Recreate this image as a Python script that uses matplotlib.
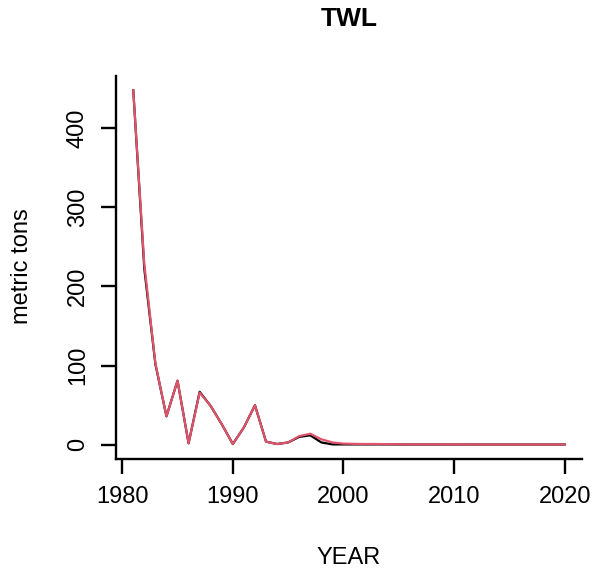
import matplotlib.pyplot as plt
import numpy as np

plt.rcParams['font.family'] = ['Liberation Sans', 'DejaVu Sans']

years = list(range(1981, 2021))
# observed catch (black) and estimated catch (red), metric tons
obs = [448, 222, 102, 36, 81, 2, 67, 49, 26, 1,
       22, 50, 4, 1, 3, 10, 12, 3, 0.5, 0.5,
       0.5, 0.5, 0.5, 0.5, 0.4, 0.4, 0.4, 0.4, 0.4, 0.4,
       0.4, 0.4, 0.4, 0.4, 0.4, 0.4, 0.4, 0.4, 0.4, 0.4]
est = [448, 228, 103, 36, 81, 2, 66, 49, 26, 1,
       22, 50, 4, 1, 3, 11, 14, 7, 3, 1.5,
       1.2, 1.0, 1.0, 0.8, 0.7, 0.6, 0.6, 0.6, 0.6, 0.6,
       0.5, 0.5, 0.5, 0.5, 0.5, 0.5, 0.5, 0.5, 0.5, 0.5]
xticks = [1980, 1990, 2000, 2010, 2020]
yticks = [0, 100, 200, 300, 400]

W, H = 593, 570
fig = plt.figure(figsize=(W / 100, H / 100), dpi=100)
ax = fig.add_axes([116 / W, 1 - 459 / H, (582 - 116) / W, (459 - 76) / H])

ax.plot(years, obs, color='black', lw=1.6)
ax.plot(years, est, color='#DF536B', lw=1.6)

# R-style 4% padding around the data range
def pad(lo, hi):
    d = (hi - lo) * 0.04
    return lo - d, hi + d

ax.set_xlim(*pad(min(years), max(years)))
ax.set_ylim(*pad(0, max(obs + est)))

for s in ['top', 'right']:
    ax.spines[s].set_visible(False)
for s in ['left', 'bottom']:
    ax.spines[s].set_linewidth(1.7)

ax.set_xticks(xticks)
ax.set_yticks(yticks)
ax.tick_params(direction='out', length=10.5, width=1.7, labelsize=17)
ax.tick_params(axis='x', pad=9)
ax.tick_params(axis='y', pad=9)
for lab in ax.get_yticklabels():
    lab.set_rotation(90)
    lab.set_va('center')

fig.text(0.5 * (116 + 582) / W, 1 - 19 / H, 'TWL', ha='center', va='center',
         fontsize=19, fontweight='bold')
fig.text(0.5 * (116 + 582) / W, 1 - 558 / H, 'YEAR', ha='center', va='center',
         fontsize=17)
fig.text(22 / W, 1 - 266 / H, 'metric tons', ha='center', va='center',
         rotation=90, fontsize=17)

fig.savefig('out.png', dpi=100)
